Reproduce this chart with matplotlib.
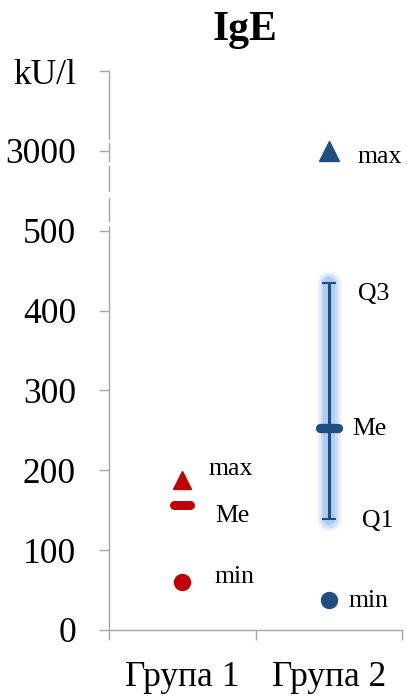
import numpy as np
import matplotlib
matplotlib.use("Agg")
import matplotlib.pyplot as plt
from matplotlib.markers import MarkerStyle
from matplotlib.patches import Rectangle

# dane
groups = ["Група 1", "Група 2"]
g1_max, g1_me, g1_min = 188, 157, 60
g2_max, g2_q3, g2_me, g2_q1, g2_min = 3000, 435, 253, 139, 37
y_ticks = [0, 100, 200, 300, 400, 500, 3000]
unit = "kU/l"

red = "#C00000"
blue = "#1F4E80"
glow = "#9DC3EE"
grey = "#A6A6A6"

# przerwana oś: powyżej 500 skala jest ściśnięta
BREAK = 500
SHRINK = 0.04


def fwd(v):
    v = np.asarray(v, dtype=float)
    return np.where(v <= BREAK, v, BREAK + (v - BREAK) * SHRINK)


def inv(v):
    v = np.asarray(v, dtype=float)
    return np.where(v <= BREAK, v, BREAK + (v - BREAK) / SHRINK)


plt.rcParams['font.family'] = ['Liberation Serif', 'DejaVu Serif']

fig = plt.figure(figsize=(4.07, 7.0), dpi=100)
ax = fig.add_axes([109 / 407, 70 / 700, 293 / 407, 559 / 700])
ax.set_yscale('function', functions=(fwd, inv))
top = float(inv(700))
ax.set_ylim(0, top)
ax.set_xlim(0, 2)

x1, x2 = np.arange(len(groups)) + 0.5
dash = MarkerStyle('_', capstyle='round')

# Grupa 1
ax.plot(x1, g1_max, '^', color=red, markersize=13, zorder=4)
ax.plot(x1, g1_me, marker=dash, color=red, markersize=12.2, mew=6.5, zorder=4)
ax.plot(x1, g1_min, 'o', color=red, markersize=11.5, zorder=4)

# Grupa 2 - poświata pod słupkiem
for lw, a in [(25, 0.12), (21, 0.2), (17, 0.35), (12, 0.6)]:
    ax.plot([x2, x2], [g2_q1, g2_q3], color=glow, lw=lw * 0.72, alpha=a,
            solid_capstyle='round', zorder=1)
ax.errorbar(x2, g2_me, yerr=[[g2_me - g2_q1], [g2_q3 - g2_me]], fmt='none',
            ecolor=blue, elinewidth=2.2, capsize=4.7, capthick=1.5, zorder=3)
ax.plot(x2, g2_me, marker=dash, color=blue, markersize=12.5, mew=6.7, zorder=4)
ax.plot(x2, g2_max, '^', color=blue, markersize=14.5, zorder=4)
ax.plot(x2, g2_min, 'o', color=blue, markersize=11.5, zorder=4)

# podpisy punktów
labels = [
    (x1, g1_max, "max", 26, 5),
    (x1, g1_me, "Me", 33, -17),
    (x1, g1_min, "min", 32, -1),
    (x2, g2_max, "max", 29, -12),
    (x2, g2_q3, "Q3", 29, -17),
    (x2, g2_me, "Me", 24, -7),
    (x2, g2_q1, "Q1", 33, -8),
    (x2, g2_min, "min", 20, -7),
]
for x, y, txt, dx, dy in labels:
    ax.annotate(txt, (x, y), xytext=(dx, dy), textcoords='offset pixels',
                ha='left', va='baseline', fontsize=18.5)

# osie
ax.set_yticks(y_ticks + [top])
ax.set_yticklabels([str(t) for t in y_ticks] + [unit])
ax.set_xticks([0, 1, 2])
ax.set_xticklabels([])
ax.set_xticks([x1, x2], minor=True)
ax.set_xticklabels(groups, minor=True)
ax.yaxis.set_minor_locator(plt.NullLocator())

for s in ['top', 'right']:
    ax.spines[s].set_visible(False)
for s in ['left', 'bottom']:
    ax.spines[s].set_color(grey)
    ax.spines[s].set_linewidth(1.0)

ax.tick_params(axis='y', which='major', length=7.2, width=1.0, color=grey,
               labelsize=25.5, pad=16.5)
ax.tick_params(axis='x', which='major', length=7.2, width=1.0, color=grey)
ax.tick_params(axis='x', which='minor', length=0, labelsize=25.5, pad=22)

# przerwy na osi pionowej
for y0, y1 in [(140, 143), (162, 166), (192, 198), (222, 226)]:
    f0 = (630 - y1) / 559
    f1 = (630 - y0) / 559
    ax.add_patch(Rectangle((-0.02, f0), 0.04, f1 - f0, transform=ax.transAxes,
                           facecolor='white', edgecolor='none', clip_on=False,
                           zorder=5))

fig.text(245 / 407, 1 - 40 / 700, "IgE", ha='center', va='baseline',
         fontsize=30, fontweight='bold')

fig.savefig("out.png", dpi=100)
